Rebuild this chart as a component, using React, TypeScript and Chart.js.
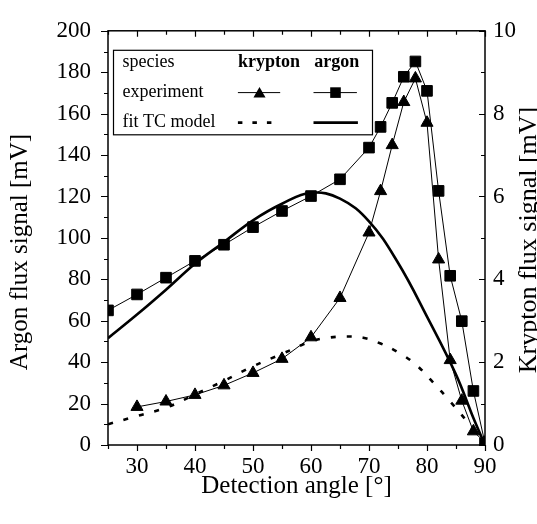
import React, { useEffect, useRef } from 'react';
import { Chart, registerables } from 'chart.js';

Chart.register(...registerables);

const FONT = '"Liberation Serif", "Times New Roman", serif';

// Experimental data
const argonAngles = [25, 30, 35, 40, 45, 50, 55, 60, 65, 70, 72, 74, 76, 78, 80, 82, 84, 86, 88, 90];
const argonSignal = [65, 72.7, 80.8, 88.9, 96.7, 105.2, 113, 120.2, 128.3, 143.6, 153.6, 165.2, 177.8, 185.2, 171, 122.7, 81.7, 59.8, 26.1, 0.8];
const kryptonAngles = [30, 35, 40, 45, 50, 55, 60, 65, 70, 72, 74, 76, 78, 80, 82, 84, 86, 88, 90];
const kryptonSignal = [0.92, 1.05, 1.21, 1.44, 1.74, 2.08, 2.6, 3.55, 5.13, 6.13, 7.24, 8.28, 8.85, 7.78, 4.48, 2.05, 1.07, 0.33, 0.06];

// TC model fits
const argonFitAngles = [25, 30, 35, 40, 45, 50, 55, 60, 65, 70, 75, 80, 85, 88, 90];
const argonFitSignal = [51.6, 63, 75, 87.5, 98, 108.5, 116.5, 121.8, 119, 108, 88, 62, 34, 13, 0];
const kryptonFitAngles = [25, 30, 35, 40, 45, 50, 55, 60, 63, 66, 69, 72, 75, 78, 81, 84, 87, 90];
const kryptonFitSignal = [0.5, 0.7, 0.9, 1.22, 1.55, 1.9, 2.2, 2.5, 2.59, 2.62, 2.59, 2.45, 2.24, 1.95, 1.52, 1.05, 0.55, 0];

// Tick labels and tick marks
const xTickLabels = [30, 40, 50, 60, 70, 80, 90];
const xTickMarks = [25, 30, 35, 40, 45, 50, 55, 60, 65, 70, 75, 80, 85, 90];
const yTickLabels = [0, 20, 40, 60, 80, 100, 120, 140, 160, 180, 200];
const yTickMarks = [0, 10, 20, 30, 40, 50, 60, 70, 80, 90, 100, 110, 120, 130, 140, 150, 160, 170, 180, 190, 200];
const y2TickLabels = [0, 2, 4, 6, 8, 10];
const y2TickMarks = [0, 1, 2, 3, 4, 5, 6, 7, 8, 9, 10];

// Legend table texts
const legendRows = ['species', 'experiment', 'fit TC model'];
const legendSpecies = ['krypton', 'argon'];

const xTitle = 'Detection angle [°]';
const yTitle = 'Argon flux signal [mV]';
const y2Title = 'Krypton flux signal [mV]';

const toPoints = (xs: number[], ys: number[]) => xs.map((x, i) => ({ x, y: ys[i] }));

const framePlugin = {
  id: 'frameTicks',
  afterDraw(chart: any) {
    const ctx = chart.ctx;
    const a = chart.chartArea;
    const sx = chart.scales.x;
    const sy = chart.scales.y;
    const sy2 = chart.scales.y2;
    ctx.save();
    ctx.strokeStyle = '#000';
    ctx.lineWidth = 1.5;
    ctx.strokeRect(a.left, a.top, a.right - a.left, a.bottom - a.top);
    ctx.lineWidth = 1.2;
    ctx.beginPath();
    xTickMarks.forEach((v) => {
      const px = Math.round(sx.getPixelForValue(v)) + 0.5;
      const len = v % 10 === 0 ? 6 : 4;
      ctx.moveTo(px, a.bottom);
      ctx.lineTo(px, a.bottom + len);
      ctx.moveTo(px, a.top);
      ctx.lineTo(px, a.top + len);
    });
    yTickMarks.forEach((v) => {
      const py = Math.round(sy.getPixelForValue(v)) + 0.5;
      const len = v % 20 === 0 ? 7 : 4;
      ctx.moveTo(a.left, py);
      ctx.lineTo(a.left - len, py);
    });
    y2TickMarks.forEach((v) => {
      const py = Math.round(sy2.getPixelForValue(v)) + 0.5;
      const len = v % 2 === 0 ? 6 : 4;
      ctx.moveTo(a.right, py);
      ctx.lineTo(a.right - len, py);
    });
    ctx.stroke();

    // vertical axis titles
    ctx.fillStyle = '#000';
    ctx.textAlign = 'center';
    ctx.textBaseline = 'middle';
    ctx.save();
    ctx.translate(20.5, 252);
    ctx.rotate(-Math.PI / 2);
    ctx.font = `25px ${FONT}`;
    ctx.fillText(yTitle, 0, 0);
    ctx.restore();
    ctx.save();
    ctx.translate(535.5, 240);
    ctx.rotate(-Math.PI / 2);
    ctx.textBaseline = 'alphabetic';
    ctx.font = `26px ${FONT}`;
    ctx.fillText(y2Title, 0, 0);
    ctx.restore();

    // legend table
    const L = a.left + 5.5;
    const T = a.top + 19.5;
    ctx.lineWidth = 1.2;
    ctx.strokeRect(L, T, 259, 84.5);
    ctx.textAlign = 'left';
    ctx.font = `18px ${FONT}`;
    const rowY = [T + 11.6, T + 42.3, T + 72.3];
    legendRows.forEach((t, i) => ctx.fillText(t, L + 9, rowY[i]));
    ctx.font = `bold 18px ${FONT}`;
    ctx.fillText(legendSpecies[0], L + 124.4, rowY[0]);
    ctx.fillText(legendSpecies[1], L + 200.7, rowY[0]);

    // experiment symbols
    ctx.lineWidth = 1;
    ctx.beginPath();
    ctx.moveTo(L + 124.4, rowY[1]);
    ctx.lineTo(L + 166.7, rowY[1]);
    ctx.moveTo(L + 200, rowY[1]);
    ctx.lineTo(L + 243.4, rowY[1]);
    ctx.stroke();
    const tx = L + 146;
    const ty = rowY[1] + 1.5;
    const r = 7;
    ctx.beginPath();
    ctx.moveTo(tx, ty - r);
    ctx.lineTo(tx + r * 0.866, ty + r * 0.5);
    ctx.lineTo(tx - r * 0.866, ty + r * 0.5);
    ctx.closePath();
    ctx.fill();
    const sq = 10.6;
    ctx.fillRect(L + 222 - sq / 2, rowY[1] - sq / 2, sq, sq);

    // fit symbols
    ctx.lineWidth = 2.6;
    ctx.beginPath();
    ctx.setLineDash([4.5, 10]);
    ctx.moveTo(L + 124.4, rowY[2]);
    ctx.lineTo(L + 158, rowY[2]);
    ctx.stroke();
    ctx.setLineDash([]);
    ctx.beginPath();
    ctx.moveTo(L + 200, rowY[2]);
    ctx.lineTo(L + 244.4, rowY[2]);
    ctx.stroke();
    ctx.restore();
  },
};

export default function App() {
  const canvasRef = useRef<HTMLCanvasElement | null>(null);

  useEffect(() => {
    document.body.style.margin = '0';
    const canvas = canvasRef.current;
    if (!canvas) return;
    const chart = new Chart(canvas, {
      type: 'line',
      data: {
        datasets: [
          {
            label: 'krypton experiment',
            data: toPoints(kryptonAngles, kryptonSignal),
            yAxisID: 'y2',
            borderColor: '#000',
            backgroundColor: '#000',
            borderWidth: 1,
            pointStyle: 'triangle',
            pointRadius: 7,
            pointHoverRadius: 7,
            pointBorderWidth: 1,
            tension: 0,
          },
          {
            label: 'argon experiment',
            data: toPoints(argonAngles, argonSignal),
            yAxisID: 'y',
            borderColor: '#000',
            backgroundColor: '#000',
            borderWidth: 1,
            pointStyle: 'rect',
            pointRadius: 7.5,
            pointHoverRadius: 7.5,
            pointBorderWidth: 1,
            tension: 0,
          },
          {
            label: 'krypton fit TC model',
            data: toPoints(kryptonFitAngles, kryptonFitSignal),
            yAxisID: 'y2',
            borderColor: '#000',
            borderWidth: 2.6,
            borderDash: [5, 11],
            pointRadius: 0,
            tension: 0.4,
          },
          {
            label: 'argon fit TC model',
            data: toPoints(argonFitAngles, argonFitSignal),
            yAxisID: 'y',
            borderColor: '#000',
            borderWidth: 2.6,
            pointRadius: 0,
            tension: 0.4,
          },
        ],
      },
      options: {
        responsive: false,
        animation: false,
        layout: { padding: { top: 18, left: 0, right: 0, bottom: 0 } },
        plugins: { legend: { display: false }, tooltip: { enabled: false } },
        scales: {
          x: {
            type: 'linear',
            min: 25,
            max: 90,
            afterBuildTicks: (s: any) => {
              s.ticks = xTickLabels.map((v) => ({ value: v }));
            },
            afterFit: (s: any) => {
              s.height = 79;
            },
            ticks: {
              font: { family: FONT, size: 23 },
              color: '#000',
              padding: 8,
              maxRotation: 0,
              autoSkip: false,
            },
            grid: { display: false, drawTicks: false, drawOnChartArea: false },
            border: { display: false },
            title: {
              display: true,
              text: xTitle,
              color: '#000',
              font: { family: FONT, size: 25 },
              padding: { top: 0, bottom: 23 },
            },
          },
          y: {
            type: 'linear',
            position: 'left',
            min: 0,
            max: 200,
            afterBuildTicks: (s: any) => {
              s.ticks = yTickLabels.map((v) => ({ value: v }));
            },
            afterFit: (s: any) => {
              s.width = 108;
            },
            ticks: { font: { family: FONT, size: 23 }, color: '#000', padding: 17, autoSkip: false },
            grid: { display: false, drawTicks: false, drawOnChartArea: false },
            border: { display: false },
          },
          y2: {
            type: 'linear',
            position: 'right',
            min: 0,
            max: 10,
            afterBuildTicks: (s: any) => {
              s.ticks = y2TickLabels.map((v) => ({ value: v }));
            },
            afterFit: (s: any) => {
              s.width = 52;
            },
            ticks: { font: { family: FONT, size: 23 }, color: '#000', padding: 8, autoSkip: false },
            grid: { display: false, drawTicks: false, drawOnChartArea: false },
            border: { display: false },
          },
        },
      },
      plugins: [framePlugin],
    } as any);
    return () => chart.destroy();
  }, []);

  return (
    <div style={{ width: 537, height: 524, background: '#fff' }}>
      <canvas ref={canvasRef} width={537} height={524} style={{ display: 'block' }} />
    </div>
  );
}
